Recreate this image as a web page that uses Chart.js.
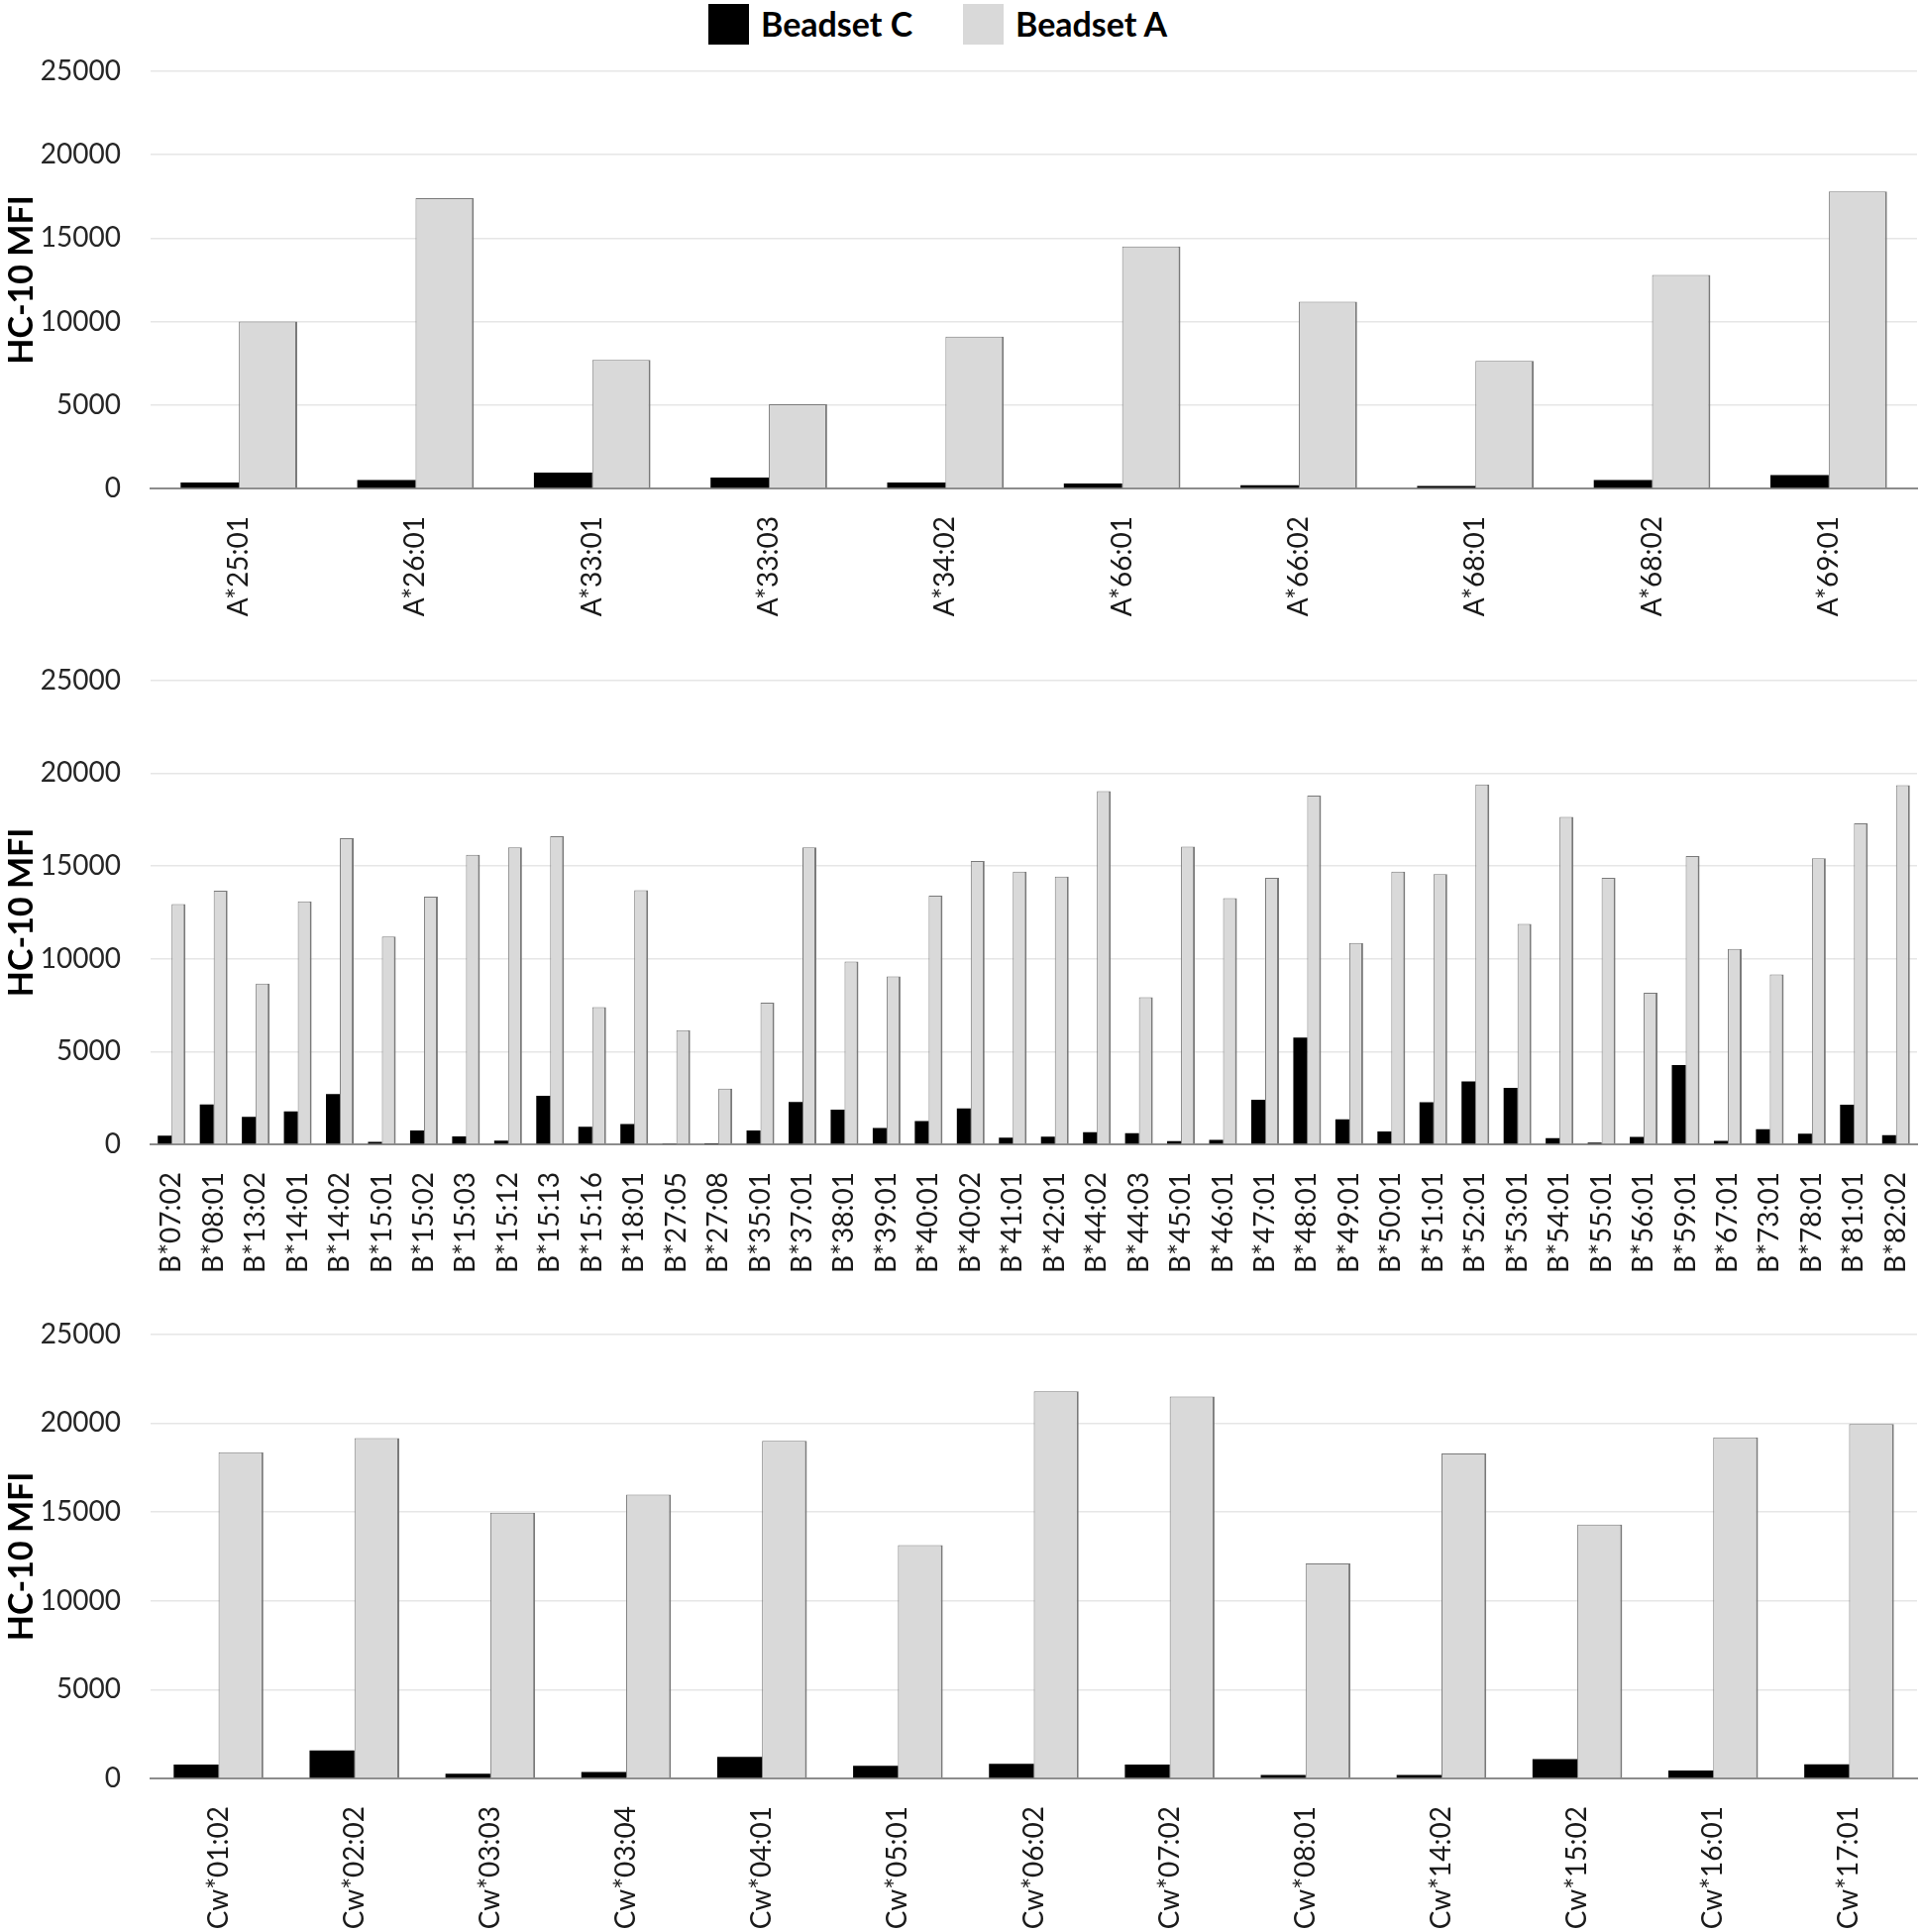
<!DOCTYPE html>
<html>
<head>
<meta charset="utf-8">
<script src="https://cdn.jsdelivr.net/npm/chart.js@4.4.1/dist/chart.umd.min.js"></script>
<style>
  body { margin: 0; background: #fff; width: 1939px; height: 1950px; position: relative; overflow: hidden; font-family: Lato, sans-serif; }
  .panel { position: absolute; left: 0; }
  .legend { position: absolute; top: 0; left: 0; width: 1939px; height: 50px; }
  .legend .box { position: absolute; top: 4px; width: 41px; height: 41px; }
  .legend .txt { position: absolute; top: 3px; font: bold 34px Lato, sans-serif; line-height: 42px; color: #000; }
</style>
</head>
<body>
<div class="legend">
  <div class="box" style="left:715px;background:#000"></div>
  <div class="txt" style="left:768px">Beadset C</div>
  <div class="box" style="left:972px;background:#d9d9d9"></div>
  <div class="txt" style="left:1025px">Beadset A</div>
</div>
<canvas id="chartA" class="panel" style="top:0px"></canvas>
<canvas id="chartB" class="panel" style="top:640px"></canvas>
<canvas id="chartC" class="panel" style="top:1300px"></canvas>
<script>
// HLA-A alleles
const allelesA = ['A*25:01','A*26:01','A*33:01','A*33:03','A*34:02','A*66:01','A*66:02','A*68:01','A*68:02','A*69:01'];
const beadsetC_A = [350, 500, 950, 650, 350, 300, 200, 150, 500, 800];
const beadsetA_A = [10000, 17400, 7700, 5050, 9100, 14500, 11200, 7650, 12800, 17800];

// HLA-B alleles
const allelesB = ['B*07:02','B*08:01','B*13:02','B*14:01','B*14:02','B*15:01','B*15:02','B*15:03','B*15:12','B*15:13',
  'B*15:16','B*18:01','B*27:05','B*27:08','B*35:01','B*37:01','B*38:01','B*39:01','B*40:01','B*40:02',
  'B*41:01','B*42:01','B*44:02','B*44:03','B*45:01','B*46:01','B*47:01','B*48:01','B*49:01','B*50:01',
  'B*51:01','B*52:01','B*53:01','B*54:01','B*55:01','B*56:01','B*59:01','B*67:01','B*73:01','B*78:01',
  'B*81:01','B*82:02'];
const beadsetC_B = [470, 2150, 1480, 1780, 2710, 130, 750, 430, 200, 2620,
  950, 1100, 30, 20, 750, 2280, 1870, 880, 1250, 1930,
  360, 410, 660, 600, 170, 240, 2400, 5750, 1350, 690,
  2270, 3390, 3040, 340, 90, 400, 4270, 190, 810, 580,
  2140, 490];
const beadsetA_B = [12950, 13670, 8670, 13100, 16500, 11200, 13350, 15600, 16000, 16600,
  7400, 13700, 6150, 3000, 7630, 16000, 9850, 9050, 13400, 15270,
  14700, 14430, 19040, 7930, 16040, 13270, 14370, 18800, 10850, 14700,
  14560, 19400, 11880, 17650, 14370, 8170, 15540, 10530, 9160, 15420,
  17300, 19360];

// HLA-C alleles
const allelesC = ['Cw*01:02','Cw*02:02','Cw*03:03','Cw*03:04','Cw*04:01','Cw*05:01','Cw*06:02','Cw*07:02','Cw*08:01','Cw*14:02','Cw*15:02','Cw*16:01','Cw*17:01'];
const beadsetC_C = [780, 1580, 270, 360, 1220, 710, 820, 780, 200, 200, 1090, 440, 800];
const beadsetA_C = [18360, 19160, 14960, 15980, 19000, 13130, 21800, 21500, 12100, 18300, 14300, 19200, 19960];

const yTicks = [0, 5000, 10000, 15000, 20000, 25000];

function makeChart(id, labels, cVals, aVals, height, padTop, xHeight) {
  const canvas = document.getElementById(id);
  canvas.width = 1939;
  canvas.height = height;
  canvas.style.width = '1939px';
  canvas.style.height = height + 'px';

  return new Chart(canvas.getContext('2d'), {
    type: 'bar',
    data: {
      labels: labels,
      datasets: [
        {
          label: 'Beadset C',
          data: cVals,
          backgroundColor: '#000000',
          borderWidth: 0,
          barPercentage: 1,
          categoryPercentage: 0.66
        },
        {
          label: 'Beadset A',
          data: aVals,
          backgroundColor: '#d9d9d9',
          borderColor: '#7a7a7a',
          borderWidth: { left: 1, right: 2, top: 1, bottom: 0 },
          borderSkipped: false,
          barPercentage: 1,
          categoryPercentage: 0.66
        }
      ]
    },
    options: {
      responsive: false,
      devicePixelRatio: 1,
      animation: false,
      layout: { padding: { top: padTop, right: 4, left: 0, bottom: 0 } },
      plugins: {
        legend: { display: false },
        tooltip: { enabled: false }
      },
      scales: {
        x: {
          grid: { display: false },
          border: { display: true, color: '#8c8c8c', width: 2 },
          ticks: {
            autoSkip: false,
            maxRotation: 90,
            minRotation: 90,
            padding: 20,
            color: '#1a1a1a',
            font: { family: 'Lato', size: 28 }
          },
          afterFit: s => {
            s.height = xHeight;
            s.paddingLeft = 0;
            s.paddingRight = 0;
          }
        },
        y: {
          min: 0,
          max: 25000,
          afterBuildTicks: s => { s.ticks = yTicks.map(v => ({ value: v })); },
          grid: { color: '#e6e6e6', lineWidth: 1.5, drawTicks: false },
          border: { display: false },
          ticks: {
            padding: 30,
            color: '#262626',
            font: { family: 'Lato', size: 28 },
            callback: v => String(v)
          },
          title: {
            display: true,
            text: 'HC-10 MFI',
            color: '#000',
            font: { family: 'Lato', size: 34, weight: 'bold' },
            padding: { top: 2, bottom: 0 }
          },
          afterFit: s => { s.width = 152; }
        }
      }
    }
  });
}

makeChart('chartA', allelesA, beadsetC_A, beadsetA_A, 640, 72, 147);
makeChart('chartB', allelesB, beadsetC_B, beadsetA_B, 660, 38, 145);
makeChart('chartC', allelesC, beadsetC_C, beadsetA_C, 650, 43, 155);
</script>
</body>
</html>
